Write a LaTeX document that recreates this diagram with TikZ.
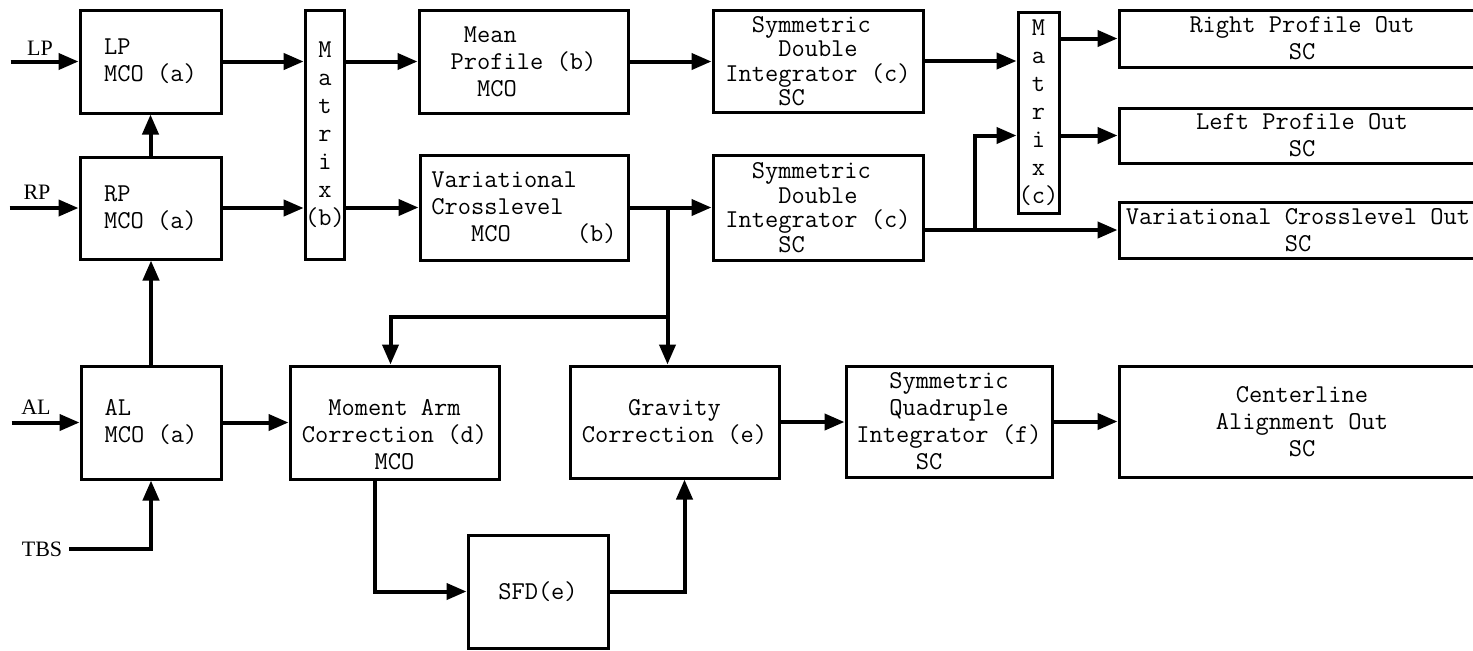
\documentclass[tikz,border=0pt]{standalone}
\usepackage{fontspec}
\setmainfont{Liberation Serif}
\usetikzlibrary{calc,arrows.meta}

\begin{document}
\begin{tikzpicture}[x=0.5pt,y=-0.5pt,
  blk/.style={draw,rectangle,line width=1.5pt,inner sep=0pt,font=\ttfamily\fontsize{12.85}{13.5}\selectfont},
  mtx/.style={blk,font=\ttfamily\fontsize{12.85}{14}\selectfont,align=center},
  flow/.style={-{Triangle[length=10pt,width=8pt]},line width=2pt},
  lbl/.style={font=\fontsize{11}{13}\selectfont}]
\useasboundingbox (0,0) rectangle (1473,650);
\clip (0,0) rectangle (1473,650);

\draw node [blk,minimum width=70.5pt,minimum height=51.5pt,align=left] at (150.5,61.5) (lpmco) {LP\\MCO (a)};
\draw node [blk,minimum width=70.5pt,minimum height=51pt,align=left] at (150.5,208) (rpmco) {RP\\MCO (a)};
\draw node [blk,minimum width=70pt,minimum height=56.5pt,align=left] at (151,422.5) (almco) {AL\\MCO (a)};
\draw node [mtx,minimum width=19pt,minimum height=124.5pt] at (325,134.5) (matb) {M\\a\\t\\r\\i\\x\\(b)};
\draw node [mtx,minimum width=20.5pt,minimum height=100.5pt] at (1038.5,112.5) (matc) {M\\a\\t\\r\\i\\x\\(c)};

\draw node [blk,minimum width=104.5pt,minimum height=51.5pt,align=left] at (523.5,61.5) (mean) {\phantom{x}Mean\\Profile (b)\\\phantom{xx}MCO};
\draw node [blk,minimum width=104pt,minimum height=52.5pt,align=left] at (524,207.5) (varmco) {Variational\\Crosslevel\\\phantom{xxx}MCO\phantom{xxxxx}(b)};
\draw node [blk,minimum width=105pt,minimum height=51pt,align=left,font=\ttfamily\fontsize{12.85}{12.25}\selectfont] at (818,61) (sdia) {\phantom{xx}Symmetric\\\phantom{xxxx}Double\\Integrator (c)\\\phantom{xxxx}SC};
\draw node [blk,minimum width=105pt,minimum height=52.5pt,align=left,font=\ttfamily\fontsize{12.85}{12.25}\selectfont] at (818,207.5) (sdib) {\phantom{xx}Symmetric\\\phantom{xxxx}Double\\Integrator (c)\\\phantom{xxxx}SC};

\draw node [blk,minimum width=183pt,minimum height=28.5pt,align=center] at (1302,38.5) (rpout) {Right Profile Out\\SC};
\draw node [blk,minimum width=183pt,minimum height=27.5pt,align=center] at (1302,135.5) (lpout) {Left Profile Out\\SC};
\draw node [blk,minimum width=179pt,minimum height=28pt,align=center] at (1298,230) (vcout) {Variational Crosslevel Out\\SC};

\draw node [blk,minimum width=104.5pt,minimum height=56.5pt,align=center] at (394.5,422.5) (moment) {\rule{0pt}{20pt}Moment Arm\\Correction (d)\\MCO};
\draw node [blk,minimum width=104.5pt,minimum height=56pt,align=center] at (674.5,422) (gravity) {Gravity\\Correction (e)};
\draw node [blk,minimum width=103pt,minimum height=55.5pt,align=center] at (949,421.5) (sqi) {Symmetric\\Quadruple\\Integrator (f)\\SC\phantom{xxx}};
\draw node [blk,minimum width=183pt,minimum height=55.5pt,align=center] at (1302,421.5) (clout) {Centerline\\Alignment Out\\SC};
\draw node [blk,minimum width=70pt,minimum height=56.5pt] at (538,591.5) (sfd) {SFD(e)};

\draw node [lbl] at (40,48) (lplbl) {LP};
\draw node [lbl] at (37,192) (rplbl) {RP};
\draw node [lbl] at (36,407) (allbl) {AL};
\draw node [lbl] at (42,549) (tbs) {TBS};

\coordinate (lpin) at ($ (lpmco.west)-(68,0) $);
\coordinate (rpin) at ($ (rpmco.west)-(69,0) $);
\coordinate (alin) at ($ (almco.west)-(68,0) $);
\coordinate (split) at ($ (varmco.east)+(38,0) $);
\coordinate (turn) at ($ (split)+(0,109.5) $);
\coordinate (split2) at ($ (sdib.east |- vcout)+(50,0) $);

\draw[flow] (lpin) -- (lpmco.west);
\draw[flow] (rpin) -- (rpmco.west);
\draw[flow] (alin) -- (almco.west);
\draw[flow] (tbs.east) -| (almco.south);
\draw[flow] (almco.north) -- (almco.north |- rpmco.south);
\draw[flow] (rpmco.north) -- (lpmco.south);

\draw[flow] (lpmco.east) -- (lpmco.east -| matb.west);
\draw[flow] (rpmco.east) -- (rpmco.east -| matb.west);
\draw[flow] (matb.east |- mean) -- (mean.west);
\draw[flow] (matb.east |- varmco) -- (varmco.west);
\draw[flow] (mean.east) -- (mean.east -| sdia.west);
\draw[flow] (varmco.east) -- (sdib.west);
\draw[flow] (sdia.east) -- (sdia.east -| matc.west);
\draw[flow] (sdib.east |- vcout) -- (vcout.west);
\draw[flow] (split2) |- (matc.west |- lpout);
\draw[flow] (matc.east |- rpout) -- (rpout.west);
\draw[flow] (matc.east |- lpout) -- (lpout.west);

\draw[flow] (split) -- (split |- gravity.north);
\draw[flow] (turn) -| ($ (moment.north)-(4,0) $);
\draw[flow] (almco.east) -- (moment.west);
\draw[flow] ($ (moment.south)-(20,0) $) |- (sfd.west);
\draw[flow] (sfd.east) -| ($ (gravity.south)+(10,0) $);
\draw[flow] (gravity.east) -- (gravity.east -| sqi.west);
\draw[flow] (sqi.east) -- (sqi.east -| clout.west);

\end{tikzpicture}
\end{document}
